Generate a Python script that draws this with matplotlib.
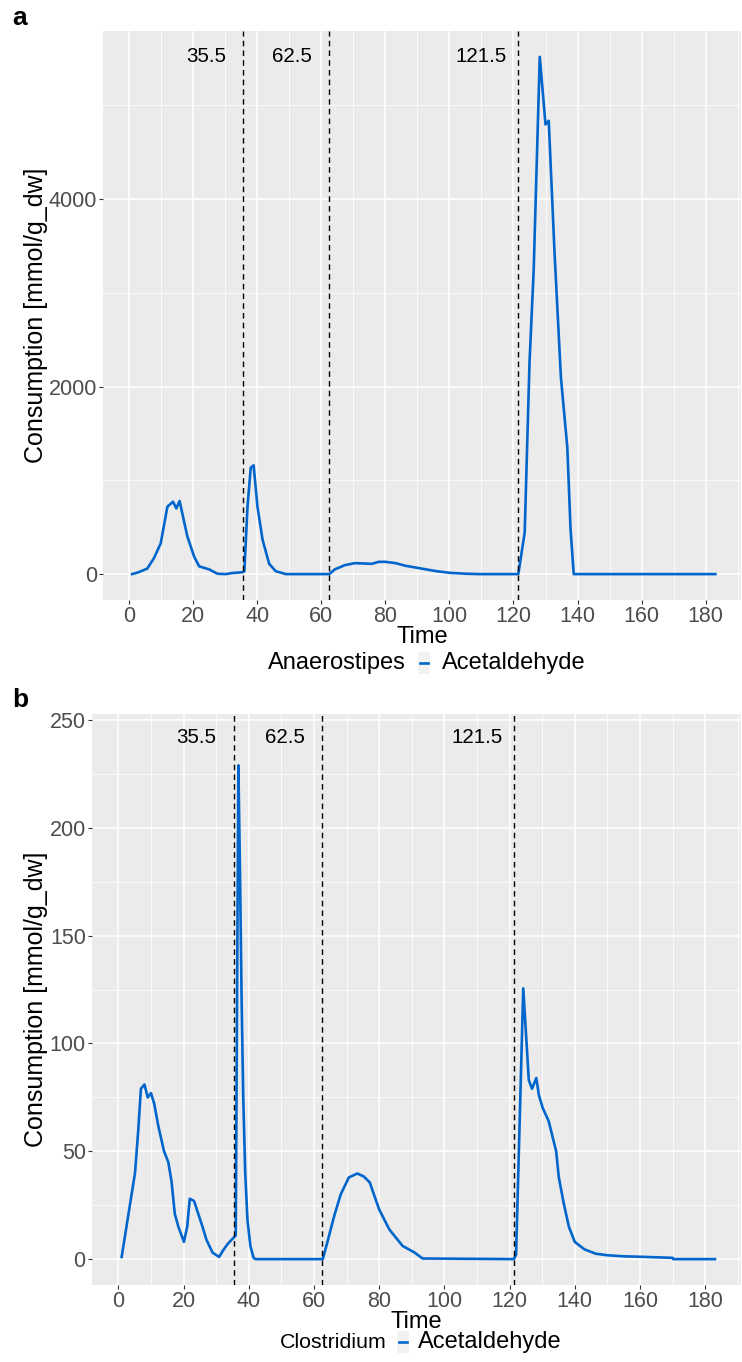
import numpy as np
import matplotlib
matplotlib.use("Agg")
import matplotlib.pyplot as plt
from matplotlib.patches import Rectangle
from matplotlib.lines import Line2D

plt.rcParams['font.family'] = ['Liberation Sans', 'DejaVu Sans']

# panel a: Anaerostipes - Acetaldehyde
time_a = [1, 3, 5.7, 7.8, 9.9, 12, 13.75, 14.8, 15.8, 18.2, 20.3, 21.9, 25, 27.6, 30.2,
          32.3, 35.4, 36, 37, 38, 38.9, 40.1, 41.7, 43.75, 45.8, 49, 62.5, 64.2, 67.4,
          70.5, 75.8, 77.9, 80, 83.2, 86.3, 90.5, 95.8, 100, 105.3, 109.5, 121.5, 123.5,
          125, 126.3, 128.2, 130, 131, 132.8, 134.8, 136.8, 137.8, 138.8, 183]
cons_a = [0, 20, 59, 170, 327, 720, 772, 700, 780, 405, 190, 83, 51, 4, 0,
          12, 20, 30, 720, 1134, 1160, 720, 366, 110, 31, 0, 0, 50, 96,
          117, 110, 131, 131, 117, 89, 64, 32, 14, 4, 0, 0, 445,
          2256, 3240, 5516, 4795, 4835, 3435, 2098, 1350, 484, 0, 0]

# panel b: Clostridium - Acetaldehyde
time_b = [1, 3.1, 5.1, 6.1, 6.9, 8.0, 9, 10, 11, 12.2, 14, 15.3, 16.3, 17.3, 18.4, 20.1,
          21.1, 21.9, 23.2, 24.5, 25.8, 27, 28.9, 30.9, 32.1, 33.5, 36, 36.8, 37.3, 37.8,
          38.3, 38.9, 39.6, 40.5, 41.5, 42.1, 62.7, 64.2, 66.2, 68.2, 70.7, 73.3, 75.3,
          77.1, 80, 83.1, 87.2, 90.8, 93.3, 121.3, 122, 124.2, 125.9, 126.9, 128.2, 129,
          130.2, 132, 134.3, 135.1, 136.6, 138.2, 140, 143, 146.5, 150, 155, 160, 170,
          170.2, 183]
cons_b = [1, 21, 40, 60, 79, 81, 75, 77, 72, 62, 50, 45, 36, 21, 15, 8,
          15, 28, 27, 21, 15, 9, 3, 1, 4, 7, 11, 229, 180, 120,
          75, 40, 18, 6, 0.5, 0, 0, 8.4, 20, 30, 37.9, 39.7, 38.3,
          35.6, 23, 13.8, 6.1, 3.1, 0.3, 0, 2, 125.6, 83, 79, 84, 76,
          70, 64, 50, 38, 26, 15, 8, 4.5, 2.5, 1.8, 1.3, 1.1, 0.6,
          0, 0]

switch_times = [35.5, 62.5, 121.5]
switch_labels = ['35.5', '62.5', '121.5']
species = ['Anaerostipes', 'Clostridium']
metabolite = 'Acetaldehyde'

W, H = 742, 1362
fig = plt.figure(figsize=(W / 100, H / 100), dpi=100)

def fx(px):
    return px / W

def fy(py):
    return 1 - py / H

line_col = '#0066CC'
grey_txt = '#4D4D4D'

def style(ax, xmajor, ymajor, xminor, yminor):
    ax.set_facecolor('#EBEBEB')
    for s in ax.spines.values():
        s.set_visible(False)
    ax.set_xticks(xmajor)
    ax.set_yticks(ymajor)
    ax.set_xticks(xminor, minor=True)
    ax.set_yticks(yminor, minor=True)
    ax.grid(which='major', color='white', lw=1.1)
    ax.grid(which='minor', color='white', lw=0.55)
    ax.set_axisbelow(True)
    ax.tick_params(which='major', length=3, width=0.8, color='#333333',
                   labelsize=15.5, labelcolor=grey_txt, pad=1.5)
    ax.tick_params(which='minor', length=0)

panels = [
    dict(box=(103, 31, 741, 600), t=time_a, v=cons_a, ylim=(-276, 5792),
         yt=[0, 2000, 4000], ymin=[1000, 3000, 5000], ytext=5520,
         leg_y=663, time_y=637, title_x=268, key_x=424, lab_x=442, title_size=17,
         letter='a', letter_y=18),
    dict(box=(92, 714, 741, 1285), t=time_b, v=cons_b, ylim=(-12, 252.8),
         yt=[0, 50, 100, 150, 200, 250], ymin=[25, 75, 125, 175, 225], ytext=242,
         leg_y=1342, time_y=1322, title_x=280, key_x=403, lab_x=418, title_size=15.4,
         letter='b', letter_y=700),
]

for i, p in enumerate(panels):
    l, t, r, b = p['box']
    ax = fig.add_axes([fx(l), fy(b), fx(r) - fx(l), fy(t) - fy(b)])
    style(ax, np.arange(0, 181, 20), p['yt'], np.arange(10, 191, 20), p['ymin'])
    ax.plot(p['t'], p['v'], color=line_col, lw=1.9, solid_joinstyle='round')
    for st, sl in zip(switch_times, switch_labels):
        ax.axvline(st, color='black', lw=1.0, ls=(0, (4, 3)))
        ax.text(st - 11.5, p['ytext'], sl, ha='center', va='center', fontsize=14.8)
    ax.set_xlim(-8.1, 191)
    ax.set_ylim(*p['ylim'])
    ax.set_xticklabels([str(x) for x in range(0, 181, 20)])
    ax.set_yticklabels([str(y) for y in p['yt']])

    cx = (l + r) / 2
    fig.text(fx(cx), fy(p['time_y']), 'Time', ha='center', va='center', fontsize=17)
    fig.text(fx(36), fy((t + b) / 2), 'Consumption [mmol/g_dw]', rotation=90,
             ha='center', va='center', fontsize=18)
    fig.text(fx(12), fy(p['letter_y']), p['letter'], ha='left', va='center',
             fontsize=19, fontweight='bold')

    # legend: title, key, label on one row
    ly = p['leg_y']
    fig.text(fx(p['title_x']), fy(ly), species[i], ha='left', va='center',
             fontsize=p['title_size'])
    kx = p['key_x']
    fig.patches.append(Rectangle((fx(kx - 6), fy(ly + 11)), fx(12), 22 / H,
                                 transform=fig.transFigure, facecolor='#F2F2F2',
                                 edgecolor='none'))
    fig.lines.append(Line2D([fx(kx - 4), fx(kx + 4)], [fy(ly), fy(ly)],
                            transform=fig.transFigure, color=line_col, lw=1.9))
    fig.text(fx(p['lab_x']), fy(ly), metabolite, ha='left', va='center', fontsize=17)

fig.savefig('out.png', dpi=100)
